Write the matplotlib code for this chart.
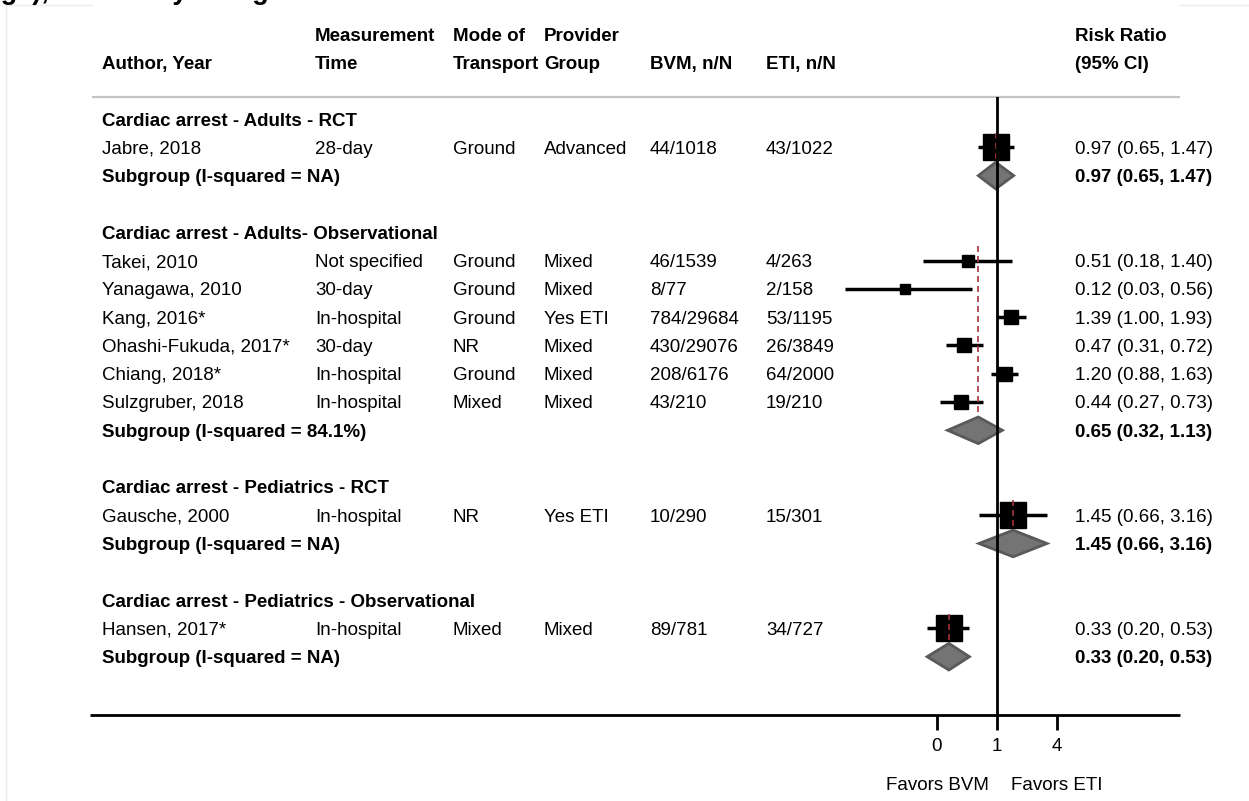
"""
Forest plot: BVM vs ETI in cardiac arrest, grouped by population and study design.
"""

import numpy as np
import matplotlib.pyplot as plt
from matplotlib.ticker import NullLocator

# ── Data ───────────────────────────────────────────────────────────────────
group_titles = ["Cardiac arrest - Adults - RCT",
                "Cardiac arrest - Adults- Observational",
                "Cardiac arrest - Pediatrics - RCT",
                "Cardiac arrest - Pediatrics - Observational"]
group_isq = ["NA", "84.1%", "NA", "NA"]
group_rr = [0.97, 0.65, 1.45, 0.33]
group_lo = [0.65, 0.32, 0.66, 0.20]
group_hi = [1.47, 1.13, 3.16, 0.53]

study_group = [0, 1, 1, 1, 1, 1, 1, 2, 3]
authors = ["Jabre, 2018", "Takei, 2010", "Yanagawa, 2010", "Kang, 2016*",
           "Ohashi-Fukuda, 2017*", "Chiang, 2018*", "Sulzgruber, 2018",
           "Gausche, 2000", "Hansen, 2017*"]
meas_time = ["28-day", "Not specified", "30-day", "In-hospital", "30-day",
             "In-hospital", "In-hospital", "In-hospital", "In-hospital"]
transport = ["Ground", "Ground", "Ground", "Ground", "NR", "Ground",
             "Mixed", "NR", "Mixed"]
provider = ["Advanced", "Mixed", "Mixed", "Yes ETI", "Mixed", "Mixed",
            "Mixed", "Yes ETI", "Mixed"]
bvm_counts = ["44/1018", "46/1539", "8/77", "784/29684", "430/29076",
              "208/6176", "43/210", "10/290", "89/781"]
eti_counts = ["43/1022", "4/263", "2/158", "53/1195", "26/3849",
              "64/2000", "19/210", "15/301", "34/727"]
rr = [0.97, 0.51, 0.12, 1.39, 0.47, 1.20, 0.44, 1.45, 0.33]
rr_lo = [0.65, 0.18, 0.03, 1.00, 0.31, 0.88, 0.27, 0.66, 0.20]
rr_hi = [1.47, 1.40, 0.56, 1.93, 0.72, 1.63, 0.73, 3.16, 0.53]

x_ticks = [0.25, 1, 4]
x_tick_labels = ["0", "1", "4"]

# ── Layout / style ─────────────────────────────────────────────────────────
W, H = 1249, 801
ROW0 = 119          # pixel y of first row
ROW_H = 28.3        # pixel height of one row
X_ONE = 997         # pixel x of RR = 1
PX_PER_LN = 43.4    # pixels per natural-log unit
FOREST_X = (820, 1075)
FOREST_Y = (97, 715)
COL_X = [102, 315, 453, 544, 650, 766]
RR_X = 1075
FS = 13.5
BOX_PX = [27, 11.5, 10, 14, 14, 14, 14, 26, 26.5]   # square side per study
RED = "#a8323e"

plt.rcParams["font.family"] = ["Liberation Sans", "DejaVu Sans"]


def row_y(r):
    return ROW0 + ROW_H * r


fig = plt.figure(figsize=(W / 100, H / 100), dpi=100)

# table axes in pixel coordinates
tab = fig.add_axes([0, 0, 1, 1])
tab.set_xlim(0, W)
tab.set_ylim(H, 0)
tab.axis("off")

# forest axes (log RR)
fx = fig.add_axes([FOREST_X[0] / W, 1 - FOREST_Y[1] / H,
                   (FOREST_X[1] - FOREST_X[0]) / W,
                   (FOREST_Y[1] - FOREST_Y[0]) / H])
fx.set_xscale("log")
fx.set_xlim(np.exp((FOREST_X[0] - X_ONE) / PX_PER_LN),
            np.exp((FOREST_X[1] - X_ONE) / PX_PER_LN))
fx.set_ylim(FOREST_Y[1], FOREST_Y[0])
fx.patch.set_alpha(0)
for s in fx.spines.values():
    s.set_visible(False)
fx.set_yticks([])
fx.set_xticks(x_ticks)
fx.set_xticklabels(x_tick_labels, fontsize=FS)
fx.xaxis.set_minor_locator(NullLocator())
fx.tick_params(axis="x", length=10.8, width=2, pad=6, color="black")

# ── Header ────────────────────────────────────────────────────────────────
hdr1 = ["", "Measurement", "Mode of", "Provider", "", ""]
hdr2 = ["Author, Year", "Time", "Transport", "Group", "BVM, n/N", "ETI, n/N"]
for x, t1, t2 in zip(COL_X, hdr1, hdr2):
    tab.text(x, row_y(-3), t1, fontsize=FS, fontweight="bold", va="center_baseline")
    tab.text(x, row_y(-2), t2, fontsize=FS, fontweight="bold", va="center_baseline")
tab.text(RR_X, row_y(-3), "Risk Ratio", fontsize=FS, fontweight="bold", va="center_baseline")
tab.text(RR_X, row_y(-2), "(95% CI)", fontsize=FS, fontweight="bold", va="center_baseline")

tab.plot([92, 1180], [97, 97], color="#c4c4c4", lw=1.6, solid_capstyle="butt")
tab.plot([90, 1180], [715, 715], color="black", lw=2, solid_capstyle="butt")

# faint frame and caption running off the top edge
tab.plot([6, 6, 92], [H, 5, 5], color="#e6ecf0", lw=1)
tab.plot([1180, W], [5, 5], color="#e6ecf0", lw=1)
tab.text(-19, -0.8, "Age), and Study Design", fontsize=19.5, fontweight="bold",
         va="baseline", ha="left")

# ── Rows ──────────────────────────────────────────────────────────────────
row = 0
for g, title in enumerate(group_titles):
    tab.text(COL_X[0], row_y(row), title, fontsize=FS, fontweight="bold",
             va="center_baseline")
    row += 1
    first = row
    for i in [k for k, gg in enumerate(study_group) if gg == g]:
        y = row_y(row)
        cells = [authors[i], meas_time[i], transport[i], provider[i],
                 bvm_counts[i], eti_counts[i]]
        for x, t in zip(COL_X, cells):
            tab.text(x, y, t, fontsize=FS, va="center_baseline")
        tab.text(RR_X, y, f"{rr[i]:.2f} ({rr_lo[i]:.2f}, {rr_hi[i]:.2f})",
                 fontsize=FS, va="center_baseline")
        fx.plot([rr_lo[i], rr_hi[i]], [y, y], color="black", lw=2.5,
                solid_capstyle="butt", zorder=2)
        fx.plot(rr[i], y, marker="s", color="black",
                markersize=BOX_PX[i] * 0.72, zorder=3)
        row += 1

    # pooled estimate
    y = row_y(row)
    tab.text(COL_X[0], y, f"Subgroup (I-squared = {group_isq[g]})",
             fontsize=FS, fontweight="bold", va="center_baseline")
    tab.text(RR_X, y, f"{group_rr[g]:.2f} ({group_lo[g]:.2f}, {group_hi[g]:.2f})",
             fontsize=FS, fontweight="bold", va="center_baseline")
    half = 0.47 * ROW_H
    fx.fill([group_lo[g], group_rr[g], group_hi[g], group_rr[g]],
            [y, y - half, y, y + half],
            facecolor="#747474", edgecolor="#595959", lw=2, zorder=5)
    fx.plot([group_rr[g], group_rr[g]],
            [row_y(first) - 0.52 * ROW_H, y + half],
            color=RED, lw=1.2, linestyle=(0, (3.6, 2.4)), zorder=4)
    row += 2

fx.axvline(1, color="black", lw=2, zorder=6)

# ── Favours labels ────────────────────────────────────────────────────────
tab.text(989, 783, "Favors BVM", fontsize=FS, ha="right", va="center_baseline")
tab.text(1011, 783, "Favors ETI", fontsize=FS, ha="left", va="center_baseline")

plt.savefig("out.png", dpi=100)
plt.close()
